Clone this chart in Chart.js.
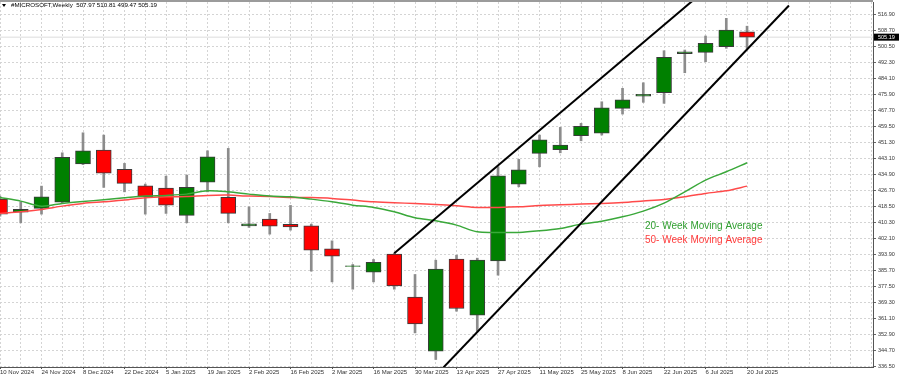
<!DOCTYPE html>
<html>
<head>
<meta charset="utf-8">
<title>#MICROSOFT,Weekly</title>
<script src="https://cdn.jsdelivr.net/npm/chart.js@4.4.1/dist/chart.umd.min.js"></script>
<style>
  html, body { margin: 0; padding: 0; background: #fff; }
  #wrap { width: 900px; height: 377px; }
</style>
</head>
<body>
<div id="wrap"><canvas id="weeklyChart" width="900" height="377"></canvas></div>
<script>
// weekly candles, one per week starting 10 Nov 2024
var weeks = ['10 Nov 2024', '17 Nov 2024', '24 Nov 2024', '1 Dec 2024', '8 Dec 2024', '15 Dec 2024',
  '22 Dec 2024', '29 Dec 2024', '5 Jan 2025', '12 Jan 2025', '19 Jan 2025', '26 Jan 2025',
  '2 Feb 2025', '9 Feb 2025', '16 Feb 2025', '23 Feb 2025', '2 Mar 2025', '9 Mar 2025',
  '16 Mar 2025', '23 Mar 2025', '30 Mar 2025', '6 Apr 2025', '13 Apr 2025', '20 Apr 2025',
  '27 Apr 2025', '4 May 2025', '11 May 2025', '18 May 2025', '25 May 2025', '1 Jun 2025',
  '8 Jun 2025', '15 Jun 2025', '22 Jun 2025', '29 Jun 2025', '6 Jul 2025', '13 Jul 2025', '20 Jul 2025'];

var opens = [422.23, 415.57, 417.46, 420.69, 440.32, 447.35, 437.45, 429.05, 427.87, 413.88, 430.94, 423.10,
  408.55, 411.98, 409.26, 408.55, 396.76, 387.70, 384.81, 394.04, 372.00, 344.32, 391.48, 362.77,
  390.61, 429.92, 445.65, 447.50, 454.68, 456.06, 468.72, 475.02, 476.72, 496.71, 497.42, 500.29, 507.97];
var highs = [423.77, 420.85, 428.89, 445.96, 456.21, 455.03, 440.53, 429.92, 434.02, 434.53, 446.99, 448.22,
  418.28, 414.90, 419.00, 409.42, 400.86, 388.76, 391.32, 394.55, 383.63, 390.96, 393.53, 391.99,
  438.79, 442.58, 455.03, 458.98, 461.03, 472.10, 478.97, 481.84, 498.24, 498.60, 505.78, 514.85, 510.81];
var lows = [413.52, 410.08, 414.54, 420.18, 439.90, 428.23, 425.97, 414.54, 414.90, 410.08, 425.97, 410.08,
  407.73, 404.29, 406.34, 385.33, 379.84, 376.10, 379.84, 376.10, 353.70, 340.07, 364.82, 354.57,
  383.28, 428.54, 438.79, 445.96, 452.11, 455.03, 465.80, 471.80, 471.28, 486.97, 492.60, 499.47, 499.47];
var closes = [414.54, 416.95, 423.41, 443.60, 446.99, 435.56, 430.28, 423.41, 419.15, 428.23, 443.91, 414.90,
  409.57, 408.39, 408.03, 396.09, 393.01, 388.10, 389.79, 377.79, 358.31, 386.35, 366.21, 390.96,
  434.17, 437.25, 452.63, 449.91, 459.49, 469.03, 473.13, 475.90, 494.86, 497.73, 502.04, 508.85, 505.19];

var ma20 = [423.10, 421.21, 418.64, 420.03, 421.05, 421.87, 422.90, 423.77, 424.13, 424.79, 426.49, 425.97,
  424.79, 423.77, 423.41, 422.23, 420.85, 419.15, 417.98, 415.72, 412.65, 411.11, 408.90, 405.47,
  405.16, 405.16, 405.98, 407.21, 409.42, 410.95, 413.16, 416.08, 420.18, 425.97, 431.97, 436.22, 440.84];
var ma50 = [414.90, 415.72, 416.95, 418.64, 420.03, 420.85, 421.72, 422.90, 423.41, 423.61, 424.13, 424.28,
  423.77, 423.61, 423.10, 423.00, 422.59, 421.72, 420.85, 420.33, 420.03, 419.51, 418.80, 417.98,
  417.98, 418.28, 419.00, 419.31, 419.67, 420.03, 420.54, 421.31, 422.08, 423.41, 425.15, 426.49, 428.89];

// channel lines drawn on the chart (week index, price)
var upperChannelX = [19, 33.45];
var upperChannelY = [394.55, 524.5];
var lowerChannelX = [21, 38.02];
var lowerChannelY = [331.9, 521.4];

var priceTicks = [336.50, 344.70, 352.90, 361.10, 369.30, 377.50, 385.70, 393.90, 402.10, 410.30, 418.50,
  426.70, 434.90, 443.10, 451.30, 459.50, 467.70, 475.90, 484.10, 492.30, 500.50, 508.70, 516.90];

var symbolTitle = '#MICROSOFT,Weekly';
var legendLabels = ['20- Week Moving Average', '50- Week Moving Average'];

var upColor = '#008000', downColor = '#ff0000';
var lastWeekSlot = 42.07; // empty space right of the last candle

function points(xs, ys) {
  var out = [];
  for (var i = 0; i < xs.length; i++) out.push({ x: xs[i], y: ys[i] });
  return out;
}

var idx = weeks.map(function(w, i) { return i; });
var bodies = idx.map(function(i) { return { x: i, y: [opens[i], closes[i]] }; });
var wicks = idx.map(function(i) { return { x: i, y: [lows[i], highs[i]] }; });
var bodyColors = idx.map(function(i) { return closes[i] >= opens[i] ? upColor : downColor; });
var lastClose = closes[closes.length - 1];

var overlay = {
  id: 'overlay',
  afterDraw: function(chart) {
    var ctx = chart.ctx, area = chart.chartArea, y = chart.scales.y;
    ctx.save();
    // frame line on top
    ctx.strokeStyle = '#7a7a7a';
    ctx.lineWidth = 1.5;
    ctx.beginPath();
    ctx.moveTo(0, 1);
    ctx.lineTo(area.right, 1);
    ctx.stroke();

    // title
    ctx.fillStyle = '#000';
    ctx.beginPath();
    ctx.moveTo(2, 4); ctx.lineTo(6, 4); ctx.lineTo(4, 7); ctx.closePath();
    ctx.fill();
    ctx.font = '6.2px "Liberation Sans", Arial, sans-serif';
    ctx.textBaseline = 'middle';
    var n = closes.length - 1;
    ctx.fillText(symbolTitle + '  ' + opens[n].toFixed(2) + ' ' + highs[n].toFixed(2) + ' ' +
      lows[n].toFixed(2) + ' ' + closes[n].toFixed(2), 11, 5.5);

    // current price tag
    var py = y.getPixelForValue(lastClose);
    ctx.fillStyle = '#000';
    ctx.fillRect(area.right + 1, py - 3.5, 25, 7);
    ctx.fillStyle = '#fff';
    ctx.font = '5.5px "Liberation Sans", Arial, sans-serif';
    ctx.fillText(lastClose.toFixed(2), area.right + 5, py + 0.5);

    // moving average labels
    ctx.font = '10px "Liberation Sans", Arial, sans-serif';
    ctx.fillStyle = '#2f9e2f';
    ctx.fillText(legendLabels[0], 645, 226);
    ctx.fillStyle = '#ff3b3b';
    ctx.fillText(legendLabels[1], 645, 240);
    ctx.restore();
  }
};

var ctx = document.getElementById('weeklyChart').getContext('2d');
var chart = new Chart(ctx, {
  type: 'bar',
  data: {
    datasets: [{
      type: 'line',
      data: [{ x: 0, y: lastClose }, { x: lastWeekSlot, y: lastClose }],
      borderColor: '#dcdcdc',
      borderWidth: 1,
      pointRadius: 0,
      clip: 0,
      order: 6
    }, {
      label: 'wick',
      data: wicks,
      backgroundColor: '#8c8c8c',
      borderWidth: 0,
      barThickness: 2,
      grouped: false,
      clip: 0,
      order: 5
    }, {
      label: 'body',
      data: bodies,
      backgroundColor: bodyColors,
      borderColor: '#3a3a3a',
      borderWidth: 1,
      borderSkipped: false,
      barThickness: 15,
      grouped: false,
      clip: 0,
      order: 4
    }, {
      type: 'line',
      label: legendLabels[1],
      data: points(idx, ma50),
      borderColor: '#ff4a4a',
      borderWidth: 1.5,
      pointRadius: 0,
      tension: 0.3,
      clip: 0,
      order: 3
    }, {
      type: 'line',
      label: legendLabels[0],
      data: points(idx, ma20),
      borderColor: '#3aa83a',
      borderWidth: 1.5,
      pointRadius: 0,
      tension: 0.3,
      clip: 0,
      order: 2
    }, {
      type: 'line',
      data: points(upperChannelX, upperChannelY),
      borderColor: '#000',
      borderWidth: 2,
      pointRadius: 0,
      clip: 0,
      order: 1
    }, {
      type: 'line',
      data: points(lowerChannelX, lowerChannelY),
      borderColor: '#000',
      borderWidth: 2,
      pointRadius: 0,
      clip: 0,
      order: 1
    }]
  },
  options: {
    responsive: false,
    animation: false,
    devicePixelRatio: 1,
    layout: { padding: { top: 2, left: 0, right: 0, bottom: 0 } },
    plugins: { legend: { display: false }, tooltip: { enabled: false }, title: { display: false } },
    scales: {
      x: {
        type: 'linear',
        offset: false,
        min: 0,
        max: lastWeekSlot,
        afterBuildTicks: function(scale) {
          var t = [];
          for (var i = 0; i <= 42; i++) t.push({ value: i });
          scale.ticks = t;
        },
        afterFit: function(scale) {
          scale.height = 10;
          scale.paddingLeft = 0;
          scale.paddingRight = 0;
        },
        ticks: {
          autoSkip: false,
          maxRotation: 0,
          align: 'start',
          padding: 0,
          color: '#333',
          font: { family: '"Liberation Sans", Arial, sans-serif', size: 6 },
          callback: function(v) { return (v % 2 === 0 && weeks[v]) ? weeks[v] : ''; }
        },
        grid: {
          offset: false,
          color: '#d4d4d4',
          tickLength: 2,
          tickBorderDash: [],
          tickColor: function(c) {
            return (c.tick && c.tick.value % 2 === 0 && weeks[c.tick.value]) ? '#555' : 'rgba(0,0,0,0)';
          }
        },
        border: { display: true, color: '#555', width: 1, dash: [2, 2] }
      },
      y: {
        type: 'linear',
        position: 'right',
        min: 336.24,
        max: 523.2,
        afterBuildTicks: function(scale) {
          scale.ticks = priceTicks.map(function(v) { return { value: v }; });
        },
        afterFit: function(scale) {
          scale.width = 27;
          scale.paddingTop = 0;
          scale.paddingBottom = 0;
        },
        ticks: {
          padding: 2,
          color: '#333',
          font: { family: '"Liberation Sans", Arial, sans-serif', size: 5.5 },
          callback: function(v) { return Number(v).toFixed(2); }
        },
        grid: { color: '#d4d4d4', tickLength: 3, tickBorderDash: [], tickColor: '#666' },
        border: { display: true, color: '#555', width: 1, dash: [2, 2] }
      }
    }
  },
  plugins: [overlay]
});
</script>
</body>
</html>
